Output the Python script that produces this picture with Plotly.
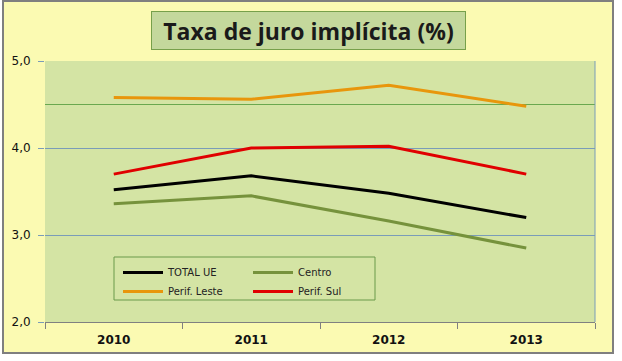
import plotly.graph_objects as go

years = ["2010", "2011", "2012", "2013"]
total_ue = [3.52, 3.68, 3.48, 3.20]
centro = [3.36, 3.45, 3.16, 2.85]
perif_leste = [4.58, 4.56, 4.72, 4.48]
perif_sul = [3.70, 4.00, 4.02, 3.70]
y_ticks = [2.0, 3.0, 4.0, 5.0]

W, H = 622, 361
L, R, T, B = 45, 27, 61, 39
pw, ph = W - L - R, H - T - B

def px(x):
    return (x - L) / pw

def py(y):
    return (H - B - y) / ph

fig = go.Figure()
series = [
    ("TOTAL UE", total_ue, "#000000", "legend"),
    ("Centro", centro, "#76923c", "legend2"),
    ("Perif. Leste", perif_leste, "#e8960c", "legend"),
    ("Perif. Sul", perif_sul, "#e00000", "legend2"),
]
for name, vals, col, lg in series:
    fig.add_trace(go.Scatter(x=years, y=vals, name=name, mode="lines",
                             line=dict(color=col, width=3), legend=lg))

# white margins outside frame
for x0, x1, y0, y1 in [(614, 622, 0, 361), (0, 622, 354, 361), (0, 2, 0, 361)]:
    fig.add_shape(type="rect", xref="paper", yref="paper",
                  x0=px(x0), x1=px(x1), y0=py(y1), y1=py(y0),
                  fillcolor="white", line=dict(width=0), layer="below")
# outer frame border
fig.add_shape(type="rect", xref="paper", yref="paper",
              x0=px(3), x1=px(613), y0=py(353), y1=py(1),
              line=dict(color="#7f7f7f", width=2), layer="below")
# 4.5 line
fig.add_shape(type="line", xref="paper", yref="y", x0=0, x1=1, y0=4.5, y1=4.5,
              line=dict(color="#6aa84f", width=1), layer="below")
# right border of plot
fig.add_shape(type="line", xref="paper", yref="paper", x0=1, x1=1, y0=0, y1=1,
              line=dict(color="#7a9cb8", width=1))
# legend box
fig.add_shape(type="rect", xref="paper", yref="paper",
              x0=px(114), x1=px(375), y0=py(300), y1=py(257),
              line=dict(color="#6a9a4a", width=1))

fig.add_annotation(text="<b>Taxa de juro implícita (%)</b>", xref="paper", yref="paper",
                   x=px(308), y=py(31), xanchor="center", yanchor="middle",
                   showarrow=False, width=311, height=35,
                   bgcolor="#c4d89c", bordercolor="#77a04a", borderwidth=1,
                   font=dict(family="Open Sans", size=23, color="#1a1a1a"))

leg_common = dict(bgcolor="rgba(0,0,0,0)", borderwidth=0, orientation="v",
                  font=dict(family="DejaVu Sans", size=10, color="#222222"),
                  xanchor="left", yanchor="top", itemwidth=40, tracegroupgap=0)
fig.update_layout(
    width=W, height=H,
    margin=dict(l=L, r=R, t=T, b=B),
    paper_bgcolor="#fbfab2",
    plot_bgcolor="#d4e4a4",
    separators=",.",
    showlegend=True,
    legend=dict(x=px(118), y=py(258), **leg_common),
    legend2=dict(x=px(248), y=py(258), **leg_common),
    xaxis=dict(type="category", range=[-0.5, 3.5], showgrid=False,
               showline=True, linecolor="#808080", linewidth=1,
               ticks="outside", tickson="boundaries", ticklen=6, tickcolor="#808080",
               tickfont=dict(family="DejaVu Sans", size=12, color="#111111"),
               tickprefix="<b>", ticksuffix="</b>", ticklabelstandoff=7),
    yaxis=dict(range=[2.0, 5.0], tickvals=y_ticks, tickformat=".1f",
               showgrid=True, gridcolor="#7a9cb8", gridwidth=1,
               zeroline=False, showline=False,
               ticks="outside", ticklen=6, tickcolor="#7a9cb8",
               tickfont=dict(family="DejaVu Sans", size=12, color="#111111"),
               tickprefix="<b>", ticksuffix="</b>", ticklabelstandoff=5),
)

fig.write_html("out.html", config={"displayModeBar": False},
               post_script="document.body.style.margin='0';")
